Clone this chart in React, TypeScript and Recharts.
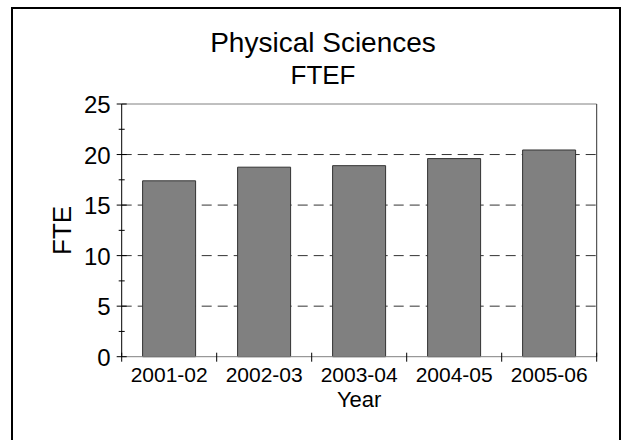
import React from 'react';
import {
  BarChart,
  Bar,
  XAxis,
  YAxis,
  CartesianGrid,
  ReferenceLine,
} from 'recharts';

const years = ['2001-02', '2002-03', '2003-04', '2004-05', '2005-06'];
const fte = [17.4, 18.75, 18.9, 19.6, 20.45];
const yTicks = [0, 2.5, 5, 7.5, 10, 12.5, 15, 17.5, 20, 22.5, 25];
const gridValues = [5, 10, 15, 20];

const data = years.map((year, i) => ({ year, fte: fte[i] }));

const W = 621;
const H = 440;
const R_W = 2;
const M = { top: 104, right: 24.3 - R_W, left: 61.7, bottom: 23.3 };
const Y_W = 60;
const X_H = 60;
const PLOT_LEFT = M.left + Y_W;
const PLOT_RIGHT = W - M.right - R_W;
const PLOT_BOTTOM = H - M.bottom - X_H;
const PLOT_TOP = M.top;
const BAND = (PLOT_RIGHT - PLOT_LEFT) / years.length;

const FONT = '"Liberation Sans", Arial, sans-serif';

// y ticks: major ones get a label, minor ones just a short mark across the axis
const YTick = (props: any) => {
  const { x, y, payload } = props;
  const v = payload.value;
  const major = v % 5 === 0;
  const len = major ? 5 : 3;
  return (
    <g>
      <line x1={x - len} x2={x + len} y1={y} y2={y} stroke="#000" strokeWidth={1} />
      {major && (
        <text x={x - 11} y={y + 9} textAnchor="end" fontSize={24} fontFamily={FONT} fill="#000">
          {v}
        </text>
      )}
    </g>
  );
};

// x ticks: label in the middle, tick marks on the category boundaries
const XTick = (props: any) => {
  const { x, y, payload, index } = props;
  return (
    <g>
      {index === 0 && (
        <line x1={x - BAND / 2} x2={x - BAND / 2} y1={y - 4} y2={y + 5} stroke="#000" />
      )}
      <line x1={x + BAND / 2} x2={x + BAND / 2} y1={y - 4} y2={y + 5} stroke="#000" />
      <text x={x} y={y + 25} textAnchor="middle" fontSize={21} fontFamily={FONT} fill="#000">
        {payload.value}
      </text>
    </g>
  );
};

export default function App() {
  return (
    <div style={{ position: 'absolute', left: 0, top: 0, width: W, height: H, background: '#fff' }}>
      <div
        style={{
          position: 'absolute',
          left: 11,
          top: 7,
          width: 610,
          height: 433,
          boxSizing: 'border-box',
          border: '2px solid #000',
          borderBottom: 'none',
        }}
      />
      <div style={{ position: 'absolute', left: 0, top: 0 }}>
        <BarChart width={W} height={H} data={data} margin={M} barCategoryGap="22%">
          <CartesianGrid
            vertical={false}
            horizontalValues={gridValues}
            stroke="#333"
            strokeDasharray="10 6"
          />
          <XAxis
            dataKey="year"
            height={X_H}
            axisLine={{ stroke: '#808080' }}
            tickLine={false}
            tickSize={0}
            tickMargin={0}
            interval={0}
            tick={<XTick />}
          />
          <YAxis
            domain={[0, 25]}
            ticks={yTicks}
            interval={0}
            width={Y_W}
            axisLine={{ stroke: '#000' }}
            tickLine={false}
            tickSize={0}
            tickMargin={0}
            tick={<YTick />}
          />
          <YAxis
            yAxisId="r"
            orientation="right"
            width={R_W}
            domain={[0, 25]}
            tick={false}
            tickLine={false}
            axisLine={{ stroke: '#333' }}
          />
          <ReferenceLine y={25} stroke="#808080" />
          <Bar
            dataKey="fte"
            fill="#808080"
            stroke="#333"
            strokeWidth={1}
            isAnimationActive={false}
          />
          <text x={323} y={51.7} textAnchor="middle" fontSize={28} fontFamily={FONT} fill="#000">
            Physical Sciences
          </text>
          <text x={323} y={84} textAnchor="middle" fontSize={26} fontFamily={FONT} fill="#000">
            FTEF
          </text>
          <text
            x={70.7}
            y={(PLOT_TOP + PLOT_BOTTOM) / 2}
            transform={`rotate(-90, 70.7, ${(PLOT_TOP + PLOT_BOTTOM) / 2})`}
            textAnchor="middle"
            fontSize={26}
            fontFamily={FONT}
            fill="#000"
          >
            FTE
          </text>
          <text
            x={(PLOT_LEFT + PLOT_RIGHT) / 2}
            y={407}
            textAnchor="middle"
            fontSize={22}
            fontFamily={FONT}
            fill="#000"
          >
            Year
          </text>
        </BarChart>
      </div>
    </div>
  );
}
